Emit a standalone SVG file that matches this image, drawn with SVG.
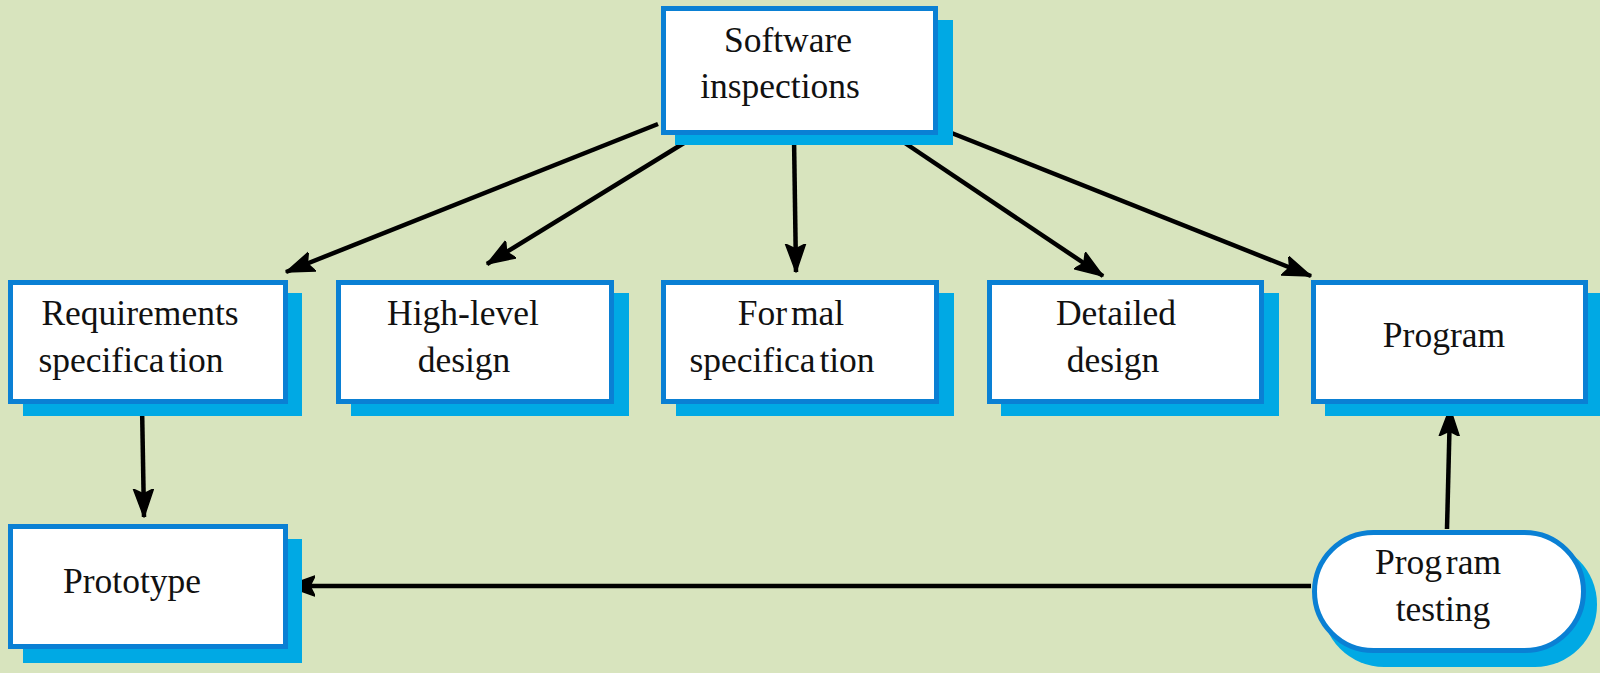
<svg xmlns="http://www.w3.org/2000/svg" width="1600" height="673" viewBox="0 0 1600 673">
<defs>
<style>
.shadow{fill:#00a9e4;}
.box{fill:#ffffff;stroke:#0a80d4;stroke-width:5;}
.t{font-family:"Liberation Serif","Times New Roman",serif;font-size:35.5px;fill:#111111;text-anchor:middle;}
.g{word-spacing:-5px;}
.c{stroke:#000000;stroke-width:4.5;fill:none;marker-end:url(#ah);}
</style>
<marker id="ah" markerUnits="userSpaceOnUse" markerWidth="32" markerHeight="24" refX="28" refY="11" orient="auto">
<path d="M0,1 L28,11 L0,21 L5,11 z" fill="#000000" stroke="#000000" stroke-width="1.5" stroke-linejoin="round"/>
</marker>
</defs>
<rect x="0" y="0" width="1600" height="673" fill="#d8e4be"/>
<g id="connectors">
<line class="c" x1="658" y1="124" x2="286" y2="272"/>
<line class="c" x1="697" y1="135" x2="487" y2="264"/>
<line class="c" x1="794" y1="137" x2="796" y2="272"/>
<line class="c" x1="893" y1="135" x2="1103" y2="276"/>
<line class="c" x1="939" y1="128" x2="1311" y2="276"/>
<line class="c" x1="142" y1="405" x2="144" y2="517"/>
<line class="c" x1="1311" y1="586" x2="287" y2="586"/>
<line class="c" x1="1447" y1="529" x2="1450" y2="408"/>
</g>
<g id="software-inspections">
<rect class="shadow" x="675" y="20" width="278" height="125"/>
<rect class="box" x="663.5" y="8.5" width="272" height="124"/>
<text class="t" x="788" y="52">Software</text>
<text class="t" x="780" y="98">inspections</text>
</g>
<g id="requirements-specification">
<rect class="shadow" x="23" y="293" width="279" height="123"/>
<rect class="box" x="10.5" y="282.5" width="275" height="119"/>
<text class="t" x="140" y="325">Requirements</text>
<text class="t g" x="131" y="372">specifica tion</text>
</g>
<g id="high-level-design">
<rect class="shadow" x="351" y="293" width="278" height="123"/>
<rect class="box" x="338.5" y="282.5" width="273" height="119"/>
<text class="t" x="463" y="325">High-level</text>
<text class="t" x="464" y="372">design</text>
</g>
<g id="formal-specification">
<rect class="shadow" x="676" y="293" width="278" height="123"/>
<rect class="box" x="663.5" y="282.5" width="273" height="119"/>
<text class="t g" x="791" y="325">For mal</text>
<text class="t g" x="782" y="372">specifica tion</text>
</g>
<g id="detailed-design">
<rect class="shadow" x="1001" y="293" width="278" height="123"/>
<rect class="box" x="989.5" y="282.5" width="272" height="119"/>
<text class="t" x="1116" y="325">Detailed</text>
<text class="t" x="1113" y="372">design</text>
</g>
<g id="program">
<rect class="shadow" x="1325" y="293" width="275" height="123"/>
<rect class="box" x="1313.5" y="282.5" width="272" height="119"/>
<text class="t" x="1444" y="347">Program</text>
</g>
<g id="prototype">
<rect class="shadow" x="23" y="539" width="279" height="124"/>
<rect class="box" x="10.5" y="526.5" width="275" height="120"/>
<text class="t" x="132" y="593">Prototype</text>
</g>
<g id="program-testing">
<rect class="shadow" x="1322" y="542" width="275" height="125" rx="62" ry="62"/>
<rect class="box" x="1314.5" y="532.5" width="269" height="118" rx="59" ry="59"/>
<text class="t g" x="1438" y="574">Prog ram</text>
<text class="t" x="1443" y="621">testing</text>
</g>
</svg>
